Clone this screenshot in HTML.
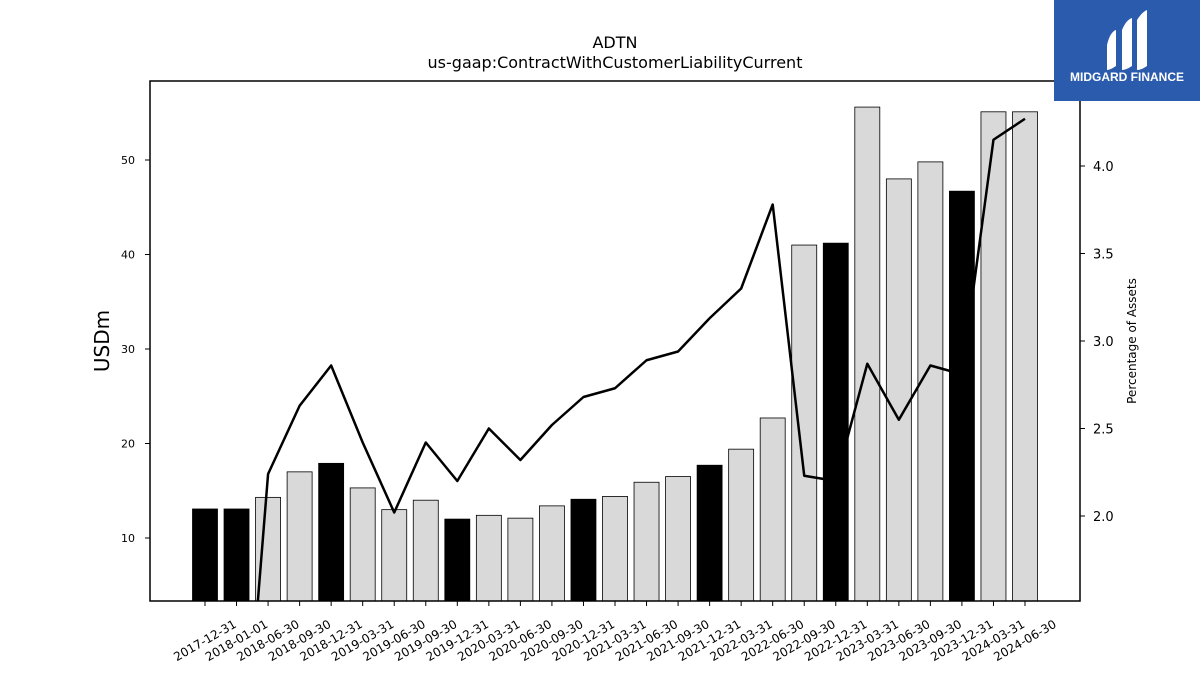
<!DOCTYPE html>
<html style="overflow:hidden"><head><meta charset="utf-8"><style>
html,body{margin:0;background:#fff;width:1200px;height:675px;overflow:hidden;font-family:"Liberation Sans","DejaVu Sans",sans-serif}
svg{display:block}
svg text{font-family:"DejaVu Sans","Liberation Sans",sans-serif}
</style></head><body>
<svg id="chart" width="1200" height="675" xmlns="http://www.w3.org/2000/svg">
<rect x="0" y="0" width="1200" height="675" fill="#fff"/>
<text x="615" y="48" text-anchor="middle" font-size="16">ADTN</text>
<text x="615" y="68" text-anchor="middle" font-size="16">us-gaap:ContractWithCustomerLiabilityCurrent</text>
<defs><clipPath id="plotclip"><rect x="150" y="81" width="930" height="520"/></clipPath></defs>
<g id="bars" clip-path="url(#plotclip)"></g>
<g id="line" clip-path="url(#plotclip)"></g>
<rect x="150" y="81" width="930" height="520" fill="none" stroke="#000" stroke-width="1.5"/>
<g id="axes"></g>
<text transform="translate(109,341) rotate(-90)" text-anchor="middle" font-size="20">USDm</text>
<text transform="translate(1136,341) rotate(-90)" text-anchor="middle" font-size="12">Percentage of Assets</text>
<g>
<rect x="1054" y="0" width="146" height="101" fill="#2b5bad"/>
<path d="M1107,45 Q1110,32 1116,30 L1116,66 Q1110,70 1107,70 Z" fill="#fff"/>
<path d="M1122,30 Q1126,20 1132,18 L1132,66 Q1126,70 1122,70 Z" fill="#fff"/>
<path d="M1137,20 Q1142,12 1147,10 L1147,66 Q1141,70 1137,70 Z" fill="#fff"/>
<text x="1127" y="81" text-anchor="middle" font-size="12" font-weight="bold" fill="#fff" style="font-family:'Liberation Sans',sans-serif">MIDGARD FINANCE</text>
</g>
</svg>
<script>
const categories=["2017-12-31","2018-01-01","2018-06-30","2018-09-30","2018-12-31","2019-03-31","2019-06-30","2019-09-30","2019-12-31","2020-03-31","2020-06-30","2020-09-30","2020-12-31","2021-03-31","2021-06-30","2021-09-30","2021-12-31","2022-03-31","2022-06-30","2022-09-30","2022-12-31","2023-03-31","2023-06-30","2023-09-30","2023-12-31","2024-03-31","2024-06-30"];
const usdValues=[13.07,13.07,14.3,17.0,17.9,15.3,13.0,14.0,12.0,12.4,12.1,13.4,14.1,14.4,15.9,16.5,17.7,19.4,22.7,41.0,41.2,55.6,48.0,49.8,46.7,55.1,55.1];
const pctValues=[0,0,2.24,2.63,2.86,2.42,2.02,2.42,2.20,2.50,2.32,2.52,2.68,2.73,2.89,2.94,3.13,3.30,3.78,2.23,2.20,2.87,2.55,2.86,2.81,4.15,4.27];
const yearEnd=[1,1,0,0,1,0,0,0,1,0,0,0,1,0,0,0,1,0,0,0,1,0,0,0,1,0,0];
const leftTicks=[10,20,30,40,50];
const rightTicks=[2.0,2.5,3.0,3.5,4.0];
const NS="http://www.w3.org/2000/svg";
const x=i=>205+i*(820/26);
const y=v=>538-(v-10)*9.45;
const y2=p=>516-(p-2)*175;
const bottom=601;
function mk(t,a,p){const e=document.createElementNS(NS,t);for(const k in a)e.setAttribute(k,a[k]);p.appendChild(e);return e;}
const bars=document.getElementById('bars'),axes=document.getElementById('axes'),lineG=document.getElementById('line');
usdValues.forEach((v,i)=>{
const r=mk('rect',{x:x(i)-12.5,y:y(v),width:25,height:bottom-y(v),fill:yearEnd[i]?'#000':'#d9d9d9',stroke:'#000','stroke-width':0.8},bars);


const t=mk('line',{x1:x(i),x2:x(i),y1:601,y2:606,stroke:'#000','stroke-width':1},axes);


const l=mk('text',{transform:`translate(${x(i)+2},644) rotate(-30)`,'text-anchor':'middle','font-size':12},axes);
l.textContent=categories[i];


});
const pts=pctValues.map((p,i)=>x(i)+','+y2(p)).join(' ');
const pl=mk('polyline',{points:pts,fill:'none',stroke:'#000','stroke-width':2.5,'stroke-linejoin':'round'},lineG);


leftTicks.forEach(v=>{
const t=mk('line',{x1:145,x2:150,y1:y(v),y2:y(v),stroke:'#000'},axes);


const l=mk('text',{x:135,y:y(v)+4,'text-anchor':'end','font-size':11},axes);
l.textContent=v;


});
rightTicks.forEach(p=>{
const t=mk('line',{x1:1080,x2:1085,y1:y2(p),y2:y2(p),stroke:'#000'},axes);


const l=mk('text',{x:1093,y:y2(p)+5,'font-size':13},axes);
l.textContent=p.toFixed(1);


});
</script>
</body></html>
